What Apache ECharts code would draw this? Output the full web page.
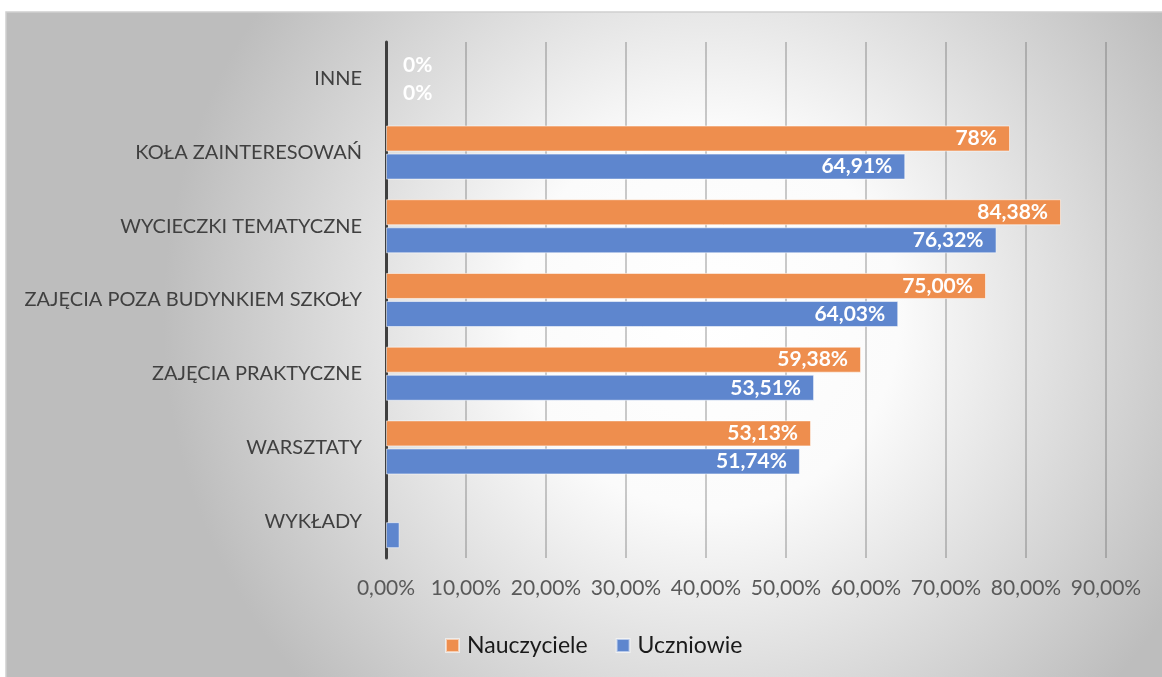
<!DOCTYPE html>
<html>
<head>
<meta charset="utf-8">
<script src="https://cdn.jsdelivr.net/npm/echarts@6/dist/echarts.min.js"></script>
<style>
  html, body { margin: 0; padding: 0; background: #fff; }
  #main { width: 1162px; height: 677px; }
</style>
</head>
<body>
<div id="main"></div>
<script>
// categories bottom -> top, as the category axis draws them
var categories = ['WYKŁADY', 'WARSZTATY', 'ZAJĘCIA PRAKTYCZNE', 'ZAJĘCIA POZA BUDYNKIEM SZKOŁY',
                  'WYCIECZKI TEMATYCZNE', 'KOŁA ZAINTERESOWAŃ', 'INNE'];
var nauczyciele = [0, 53.13, 59.38, 75.00, 84.38, 78, 0];
var uczniowie = [1.7, 51.74, 53.51, 64.03, 76.32, 64.91, 0];
var labelsN = ['', '53,13%', '59,38%', '75,00%', '84,38%', '78%', '0%'];
var labelsU = ['', '51,74%', '53,51%', '64,03%', '76,32%', '64,91%', '0%'];
var xTicks = ['0,00%', '10,00%', '20,00%', '30,00%', '40,00%', '50,00%', '60,00%', '70,00%', '80,00%', '90,00%'];

var FONT = 'Lato';
var chart = echarts.init(document.getElementById('main'));

function makeData(values, labels) {
    return values.map(function (v, i) {
        var item = { value: v };
        if (v === 0) {
            item.itemStyle = { borderWidth: 0 };
            if (labels[i]) item.label = { position: 'right', distance: 17 };
        }
        return item;
    });
}

function barSeries(name, color, values, labels) {
    return {
        name: name,
        type: 'bar',
        barWidth: 26,
        barGap: '8%',
        data: makeData(values, labels),
        itemStyle: {
            color: color,
            borderColor: 'rgba(255,255,255,0.55)',
            borderWidth: 1
        },
        label: {
            show: true,
            position: 'insideRight',
            distance: 13,
            color: '#fff',
            fontFamily: FONT,
            fontWeight: 'bold',
            fontSize: 21,
            formatter: function (p) { return labels[p.dataIndex]; }
        }
    };
}

chart.setOption({
    animation: false,
    graphic: [{
        type: 'rect',
        z: -10,
        silent: true,
        shape: { x: 6, y: 12, width: 1170, height: 680 },
        style: {
            fill: {
                type: 'radial', x: 0.6, y: 0.45, r: 0.8,
                colorStops: [
                    { offset: 0, color: '#ffffff' },
                    { offset: 0.35, color: '#fbfbfb' },
                    { offset: 1, color: '#bdbdbd' }
                ]
            },
            stroke: '#d0d0d0',
            lineWidth: 1.5
        }
    }],
    legend: {
        data: ['Nauczyciele', 'Uczniowie'],
        left: 440,
        top: 629,
        itemWidth: 13,
        itemHeight: 13,
        itemGap: 28,
        icon: 'rect',
        textStyle: { fontFamily: FONT, fontSize: 23, color: '#1a1a1a', padding: [0, 0, 0, 3] }
    },
    grid: { left: 386, right: 56, top: 42, bottom: 119, containLabel: false },
    xAxis: {
        type: 'value',
        min: 0,
        max: 90,
        interval: 10,
        axisLine: { show: false },
        axisTick: { show: false },
        axisLabel: {
            margin: 20,
            fontFamily: FONT,
            fontSize: 21,
            color: '#595959',
            formatter: function (v) { return xTicks[Math.round(v / 10)]; }
        },
        splitLine: { lineStyle: { color: 'rgba(90,90,90,0.42)', width: 1.5 } }
    },
    yAxis: {
        type: 'category',
        data: categories,
        axisLine: { lineStyle: { color: '#3f3f3f', width: 3 } },
        axisTick: { show: false },
        axisLabel: {
            margin: 24,
            fontFamily: FONT,
            fontSize: 20,
            color: '#404040'
        }
    },
    series: [
        barSeries('Nauczyciele', '#EE8E4E', nauczyciele, labelsN),
        barSeries('Uczniowie', '#5E86CE', uczniowie, labelsU)
    ]
});
</script>
</body>
</html>
